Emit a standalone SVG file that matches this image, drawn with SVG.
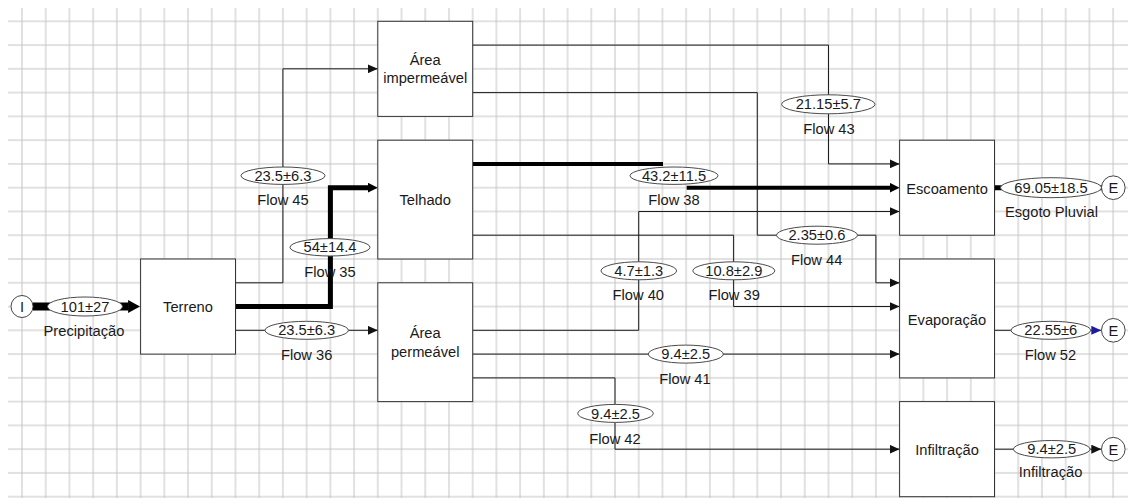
<svg xmlns="http://www.w3.org/2000/svg" width="1128" height="498" viewBox="0 0 1128 498">
  <style>
    text { font-family: "Liberation Sans", Arial, sans-serif; font-size: 14.7px; fill: #1a1a1a; text-anchor: middle; }
    .box { fill: #ffffff; stroke: #333333; stroke-width: 1; }
    .flow { fill: none; stroke: #1e1e1e; stroke-width: 1; }
    .thick { fill: none; stroke: #000000; stroke-linejoin: miter; }
    .val { fill: #ffffff; stroke: #4a4a4a; stroke-width: 1; }
    .term { fill: #ffffff; stroke: #444444; stroke-width: 1; }
  </style>
  <defs>
    <pattern id="grid" x="10.14" y="9.41" width="23.72" height="23.77" patternUnits="userSpaceOnUse">
      <path d="M11.86 0 V23.77 M0 11.89 H23.72" stroke="#c3c3c3" stroke-width="1" fill="none"/>
    </pattern>
    <marker id="arr" viewBox="0 0 10 9" refX="10" refY="4.5" markerWidth="10" markerHeight="9" markerUnits="userSpaceOnUse" orient="auto">
      <path d="M0,0 L10,4.5 L0,9 z" fill="#111111"/>
    </marker>
    <marker id="arrT" viewBox="0 0 10 10" refX="0.5" refY="5" markerWidth="10" markerHeight="10" markerUnits="userSpaceOnUse" orient="auto">
      <path d="M0,0 L10,5 L0,10 z" fill="#000000"/>
    </marker>
    <marker id="arrP" viewBox="0 0 12 13" refX="0.5" refY="6.5" markerWidth="12" markerHeight="13" markerUnits="userSpaceOnUse" orient="auto">
      <path d="M0,0 L12,6.5 L0,13 z" fill="#000000"/>
    </marker>
    <marker id="arrB" viewBox="0 0 10 9" refX="10" refY="4.5" markerWidth="10" markerHeight="9" markerUnits="userSpaceOnUse" orient="auto">
      <path d="M0,0 L10,4.5 L0,9 z" fill="#1c1ca0"/>
    </marker>
  </defs>

  <!-- background grid -->
  <rect width="1128" height="498" fill="#ffffff"/>
  <rect x="8" y="8" width="1120" height="490" fill="url(#grid)"/>

  <!-- connectors -->
  <g id="connectors">
    <path id="precipitacao" class="thick" stroke-width="8" d="M33 306.5 H128.6" marker-end="url(#arrP)"/>
    <path id="flow45" class="flow" d="M235.5 282.8 H282.9 V68.8 H377.8" marker-end="url(#arr)"/>
    <path id="flow35" class="thick" stroke-width="5" d="M235.5 306.5 H330.4 V187.7 H368.3" marker-end="url(#arrT)"/>
    <path id="flow36" class="flow" d="M235.5 330.3 H377.8" marker-end="url(#arr)"/>
    <path id="flow43" class="flow" d="M472.7 45.1 H828.5 V163.9 H899.6" marker-end="url(#arr)"/>
    <path id="flow44" class="flow" d="M472.7 92.6 H757.3 V235.2 H875.9 V282.8 H899.6" marker-end="url(#arr)"/>
    <!-- the step of flow 38 sits under its value label -->
    <path id="flow38" class="thick" stroke-width="4" d="M472.7 163.9 H663 M686.7 187.7 H890.1" marker-end="url(#arrT)"/>
    <path id="flow39" class="flow" d="M472.7 235.2 H733.6 V306.5 H899.6" marker-end="url(#arr)"/>
    <path id="flow40" class="flow" d="M472.7 330.3 H638.7 V211.5 H899.6" marker-end="url(#arr)"/>
    <path id="flow41" class="flow" d="M472.7 354.1 H899.6" marker-end="url(#arr)"/>
    <path id="flow42" class="flow" d="M472.7 377.9 H615 V449.2 H899.6" marker-end="url(#arr)"/>
    <path id="esgoto" class="thick" stroke-width="5" d="M994.5 187.7 H1102"/>
    <path id="flow52" class="flow" stroke="#22226a" d="M994.5 330.3 H1101.3" marker-end="url(#arrB)"/>
    <path id="infiltracao-out" class="flow" d="M994.5 449.2 H1101.3" marker-end="url(#arr)"/>
  </g>

  <!-- flow values and names -->
  <g id="flow-labels">
    <ellipse class="val" cx="85" cy="306.5" rx="37.5" ry="9.5"/>
    <text x="85" y="311.5">101±27</text>
    <text x="84" y="336">Precipitação</text>

    <ellipse class="val" cx="283" cy="175.7" rx="42" ry="8.7"/>
    <text x="283" y="180.8">23.5±6.3</text>
    <text x="283" y="205">Flow 45</text>

    <ellipse class="val" cx="330" cy="247.3" rx="40" ry="8.7"/>
    <text x="330" y="252.4">54±14.4</text>
    <text x="330" y="276.5">Flow 35</text>

    <ellipse class="val" cx="306.7" cy="330.3" rx="41.7" ry="9"/>
    <text x="306.7" y="335.4">23.5±6.3</text>
    <text x="306.7" y="360">Flow 36</text>

    <ellipse class="val" cx="828.3" cy="104.3" rx="46.7" ry="9.5"/>
    <text x="828.3" y="109.4">21.15±5.7</text>
    <text x="829" y="134">Flow 43</text>

    <ellipse class="val" cx="674" cy="175.7" rx="44" ry="8.7"/>
    <text x="674" y="180.8">43.2±11.5</text>
    <text x="674" y="205">Flow 38</text>

    <ellipse class="val" cx="817" cy="235.2" rx="40.5" ry="9"/>
    <text x="817" y="240.3">2.35±0.6</text>
    <text x="816.7" y="265">Flow 44</text>

    <ellipse class="val" cx="638.8" cy="270.8" rx="37.8" ry="9"/>
    <text x="638.8" y="275.9">4.7±1.3</text>
    <text x="638.3" y="300">Flow 40</text>

    <ellipse class="val" cx="733.8" cy="270.8" rx="41" ry="9"/>
    <text x="733.8" y="275.9">10.8±2.9</text>
    <text x="734.2" y="300">Flow 39</text>

    <ellipse class="val" cx="685.8" cy="354.1" rx="37.5" ry="9"/>
    <text x="685.8" y="359.2">9.4±2.5</text>
    <text x="685" y="384">Flow 41</text>

    <ellipse class="val" cx="615.5" cy="413.4" rx="37.8" ry="9"/>
    <text x="615.5" y="418.5">9.4±2.5</text>
    <text x="615" y="444">Flow 42</text>

    <ellipse class="val" cx="1051" cy="187.7" rx="50.5" ry="10"/>
    <text x="1051" y="192.8">69.05±18.5</text>
    <text x="1051.5" y="216.5">Esgoto Pluvial</text>

    <ellipse class="val" cx="1050.8" cy="330.3" rx="39.8" ry="9"/>
    <text x="1050.8" y="335.4">22.55±6</text>
    <text x="1050.5" y="360">Flow 52</text>

    <ellipse class="val" cx="1051.7" cy="449.2" rx="38.3" ry="8.7"/>
    <text x="1051.7" y="454.3">9.4±2.5</text>
    <text x="1050.5" y="477">Infiltração</text>
  </g>

  <!-- source and sinks -->
  <g id="source-I">
    <circle class="term" cx="22" cy="306.5" r="11"/>
    <text x="22" y="311.8">I</text>
  </g>
  <g id="sink-esgoto">
    <circle class="term" cx="1113.3" cy="187.7" r="11.8"/>
    <text x="1113.3" y="193">E</text>
  </g>
  <g id="sink-evaporacao">
    <circle class="term" cx="1113.3" cy="330.3" r="11.8"/>
    <text x="1113.3" y="335.6">E</text>
  </g>
  <g id="sink-infiltracao">
    <circle class="term" cx="1113.3" cy="449.2" r="11.8"/>
    <text x="1113.3" y="454.5">E</text>
  </g>

  <!-- stocks -->
  <g id="terreno">
    <rect class="box" x="140.6" y="259" width="94.9" height="95.1"/>
    <text x="188" y="312">Terreno</text>
  </g>
  <g id="area-impermeavel">
    <rect class="box" x="377.8" y="21.3" width="94.9" height="95.1"/>
    <text x="425.2" y="65">Área</text>
    <text x="425.2" y="83">impermeável</text>
  </g>
  <g id="telhado">
    <rect class="box" x="377.8" y="140.2" width="94.9" height="118.8"/>
    <text x="425.2" y="205">Telhado</text>
  </g>
  <g id="area-permeavel">
    <rect class="box" x="377.8" y="282.8" width="94.9" height="118.8"/>
    <text x="425.2" y="338">Área</text>
    <text x="425.2" y="357">permeável</text>
  </g>
  <g id="escoamento">
    <rect class="box" x="899.6" y="140.2" width="94.9" height="95"/>
    <text x="947" y="193.5">Escoamento</text>
  </g>
  <g id="evaporacao">
    <rect class="box" x="899.6" y="259" width="94.9" height="118.9"/>
    <text x="947" y="325">Evaporação</text>
  </g>
  <g id="infiltracao">
    <rect class="box" x="899.6" y="401.6" width="94.9" height="95.1"/>
    <text x="947" y="455">Infiltração</text>
  </g>
</svg>
